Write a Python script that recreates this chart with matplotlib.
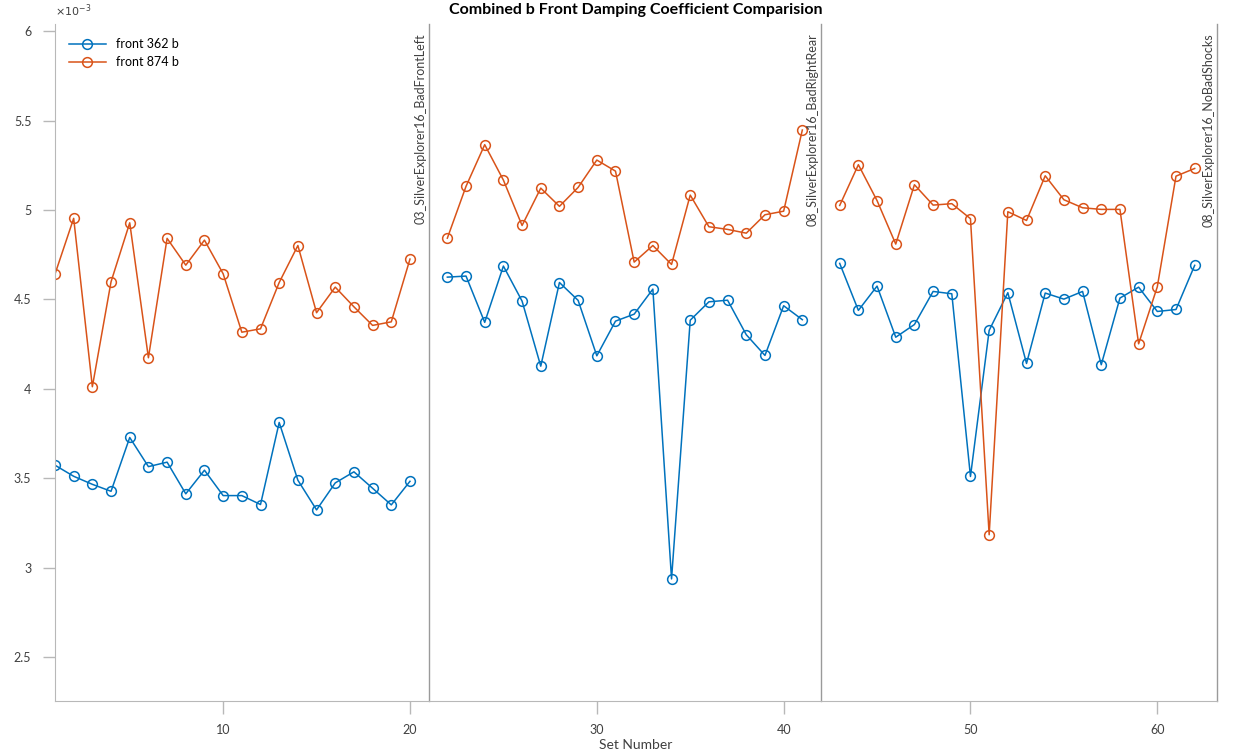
import numpy as np
import matplotlib
matplotlib.use('Agg')
from matplotlib import pyplot as plt

plt.rcParams['font.family'] = ['Lato', 'DejaVu Sans']

## Data ----------------------------------------------------------------------
# set numbers for each vehicle run (gaps at 21 and 42 separate the runs)
sets_a = list(range(1, 21))
sets_b = list(range(22, 42))
sets_c = list(range(43, 63))

# front damping coefficient, x1e-3
front_362 = {
    'a': [3.573, 3.511, 3.466, 3.427, 3.728, 3.565, 3.590, 3.413, 3.545, 3.403,
          3.403, 3.353, 3.812, 3.489, 3.323, 3.474, 3.536, 3.444, 3.351, 3.483],
    'b': [4.625, 4.631, 4.372, 4.687, 4.491, 4.127, 4.595, 4.495, 4.185, 4.379,
          4.418, 4.558, 2.937, 4.384, 4.487, 4.496, 4.303, 4.187, 4.465, 4.387],
    'c': [4.702, 4.439, 4.575, 4.289, 4.360, 4.545, 4.532, 3.510, 4.327, 4.538,
          4.142, 4.536, 4.502, 4.545, 4.135, 4.508, 4.569, 4.433, 4.444, 4.691],
}
front_874 = {
    'a': [4.642, 4.954, 4.012, 4.599, 4.929, 4.174, 4.842, 4.692, 4.832, 4.644,
          4.317, 4.336, 4.595, 4.802, 4.426, 4.569, 4.459, 4.355, 4.375, 4.726],
    'b': [4.843, 5.133, 5.366, 5.168, 4.914, 5.123, 5.021, 5.127, 5.280, 5.218,
          4.709, 4.802, 4.696, 5.084, 4.907, 4.892, 4.871, 4.974, 4.994, 5.448],
    'c': [5.026, 5.254, 5.053, 4.810, 5.142, 5.028, 5.036, 4.952, 3.184, 4.991,
          4.942, 5.192, 5.058, 5.013, 5.004, 5.004, 4.252, 4.571, 5.190, 5.233],
}

run_ends = [21, 42, 63.2]
run_names = ['03_SilverExplorer16_BadFrontLeft',
             '08_SilverExplorer16_BadRightRear',
             '08_SilverExplorer16_NoBadShocks']

## Plot ----------------------------------------------------------------------
blue = '#0072BD'
orange = '#D95319'
axcol = '#b8b8b8'
txtcol = '#404040'

fig = plt.figure(figsize=(12.33, 7.56), dpi=100)
ax = fig.add_axes([0.0446, 0.073, 0.9425, 0.895])

sets = {'a': sets_a, 'b': sets_b, 'c': sets_c}
for i, k in enumerate(['a', 'b', 'c']):
    ax.plot(sets[k], front_362[k], '-o', color=blue, lw=1.1, ms=7,
            mfc='none', mew=1.1, label='front 362 b' if i == 0 else None)
    ax.plot(sets[k], front_874[k], '-o', color=orange, lw=1.1, ms=7,
            mfc='none', mew=1.1, label='front 874 b' if i == 0 else None)

# run separators with their labels
for xe, name in zip(run_ends, run_names):
    ax.axvline(xe, color='#9a9a9a', lw=1, clip_on=False)
    ax.text(xe - 0.12, 5.99, name, rotation=90, ha='right', va='top',
            fontsize=9, color=txtcol)

ax.set_xlim(1, 63.2)
ax.set_ylim(2.255, 6.04)
ax.set_xticks([10, 20, 30, 40, 50, 60])
ax.set_yticks([2.5, 3, 3.5, 4, 4.5, 5, 5.5, 6])
ax.set_yticklabels(['2.5', '3', '3.5', '4', '4.5', '5', '5.5', '6'])

for s in ['top', 'right']:
    ax.spines[s].set_visible(False)
for s in ['left', 'bottom']:
    ax.spines[s].set_color(axcol)
ax.tick_params(direction='out', length=9, width=1, color=axcol,
               labelsize=9, labelcolor=txtcol, pad=8)

ax.text(0.0, 1.008, r'$\times10^{-3}$', transform=ax.transAxes,
        fontsize=8, color=txtcol, ha='left', va='bottom')

ax.set_xlabel('Set Number', fontsize=10, color=txtcol, labelpad=2)
ax.set_title('Combined b Front Damping Coefficient Comparision',
             fontsize=11.5, fontweight='bold', color='black', pad=7)

ax.legend(loc='upper left', frameon=False, fontsize=9,
          bbox_to_anchor=(0.0, 1.0), handlelength=3, borderaxespad=0.7,
          labelspacing=0.5)

plt.savefig('out.png', dpi=100)
